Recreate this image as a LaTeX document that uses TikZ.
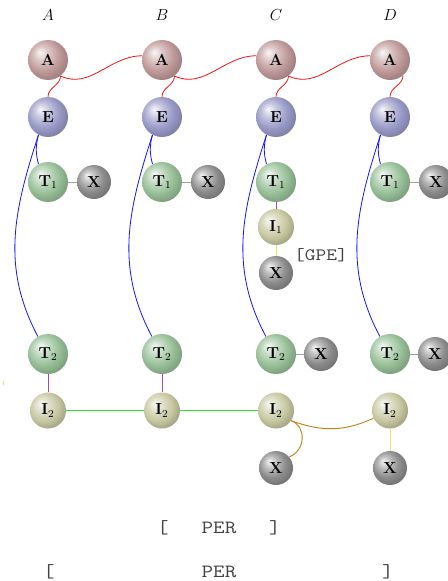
\documentclass[tikz,border=0pt]{standalone}
\usepackage{fontspec}
\newfontfamily\monofont[FakeStretch=1.2]{Latin Modern Mono}
\definecolor{cA}{RGB}{192,154,154}
\definecolor{cE}{RGB}{154,154,200}
\definecolor{cT}{RGB}{152,192,152}
\definecolor{cX}{RGB}{140,140,140}
\definecolor{cI}{RGB}{200,200,162}
\definecolor{lred}{RGB}{240,20,20}
\definecolor{lblue}{RGB}{20,20,245}
\definecolor{lgrey}{RGB}{160,160,160}
\definecolor{lpurple}{RGB}{170,70,170}
\definecolor{lyellow}{RGB}{225,225,110}
\definecolor{brightgreen}{RGB}{40,230,40}
\definecolor{lbrown}{RGB}{195,130,25}
\definecolor{tgrey}{RGB}{65,65,65}
\makeatletter
\pgfdeclareradialshading[tikz@ball]{softball}{\pgfqpoint{-10bp}{10bp}}{%
  color(0bp)=(tikz@ball!8!white);
  color(9bp)=(tikz@ball!55!white);
  color(20bp)=(tikz@ball);
  color(32bp)=(tikz@ball!78!black);
  color(50bp)=(tikz@ball!50!black)}
\makeatother
\begin{document}
\begin{tikzpicture}[x=0.75pt,y=-0.75pt,
  ball/.style={circle, inner sep=0pt, font=\fontsize{12}{14}\selectfont\bfseries},
  nA/.style={ball, minimum size=30pt, ball color=cA, shading=softball},
  nE/.style={ball, minimum size=30pt, ball color=cE, shading=softball},
  nT/.style={ball, minimum size=30pt, ball color=cT, shading=softball},
  nX/.style={ball, minimum size=25.5pt, ball color=cX, shading=softball},
  nI/.style={ball, minimum size=27pt, ball color=cI, shading=softball},
  col/.style={font=\fontsize{13}{15}\selectfont},
  tag/.style={font=\monofont\fontsize{13}{15}\selectfont, text=tgrey, inner sep=0pt},
  bigtag/.style={tag, font=\monofont\fontsize{14}{16}\selectfont},
  redl/.style={draw=lred, line width=0.6pt},
  bluel/.style={draw=lblue, line width=0.6pt},
  greyl/.style={draw=lgrey, line width=0.7pt},
  purl/.style={draw=lpurple, line width=0.7pt},
  yell/.style={draw=lyellow, line width=0.7pt},
  grnl/.style={draw=brightgreen, line width=0.8pt},
  brnl/.style={draw=lbrown, line width=0.7pt}
]
\useasboundingbox (0,0) rectangle (448,581);

% column labels
\node[col] (la) at (48,15) {$A$};
\node[col] (lb) at (162,15) {$B$};
\node[col] (lc) at (276,15) {$C$};
\node[col] (ld) at (390,15) {$D$};

% column A
\node[nA] (aA) at (48,60) {A};
\node[nE] (aE) at (48,117) {E};
\node[nT] (aT1) at (48,182) {T$_1$};
\node[nX] (aX1) at (94,182) {X};
\node[nT] (aT2) at (48,354) {T$_2$};
\node[nI] (aI2) at (48,410.5) {I$_2$};

% column B
\node[nA] (bA) at (162,60) {A};
\node[nE] (bE) at (162,117) {E};
\node[nT] (bT1) at (162,182) {T$_1$};
\node[nX] (bX1) at (208,182) {X};
\node[nT] (bT2) at (162,354) {T$_2$};
\node[nI] (bI2) at (162,410.5) {I$_2$};

% column C
\node[nA] (cA) at (276,60) {A};
\node[nE] (cE) at (276,117) {E};
\node[nT] (cT1) at (276,182) {T$_1$};
\node[nI] (cI1) at (276,227) {I$_1$};
\node[nX] (cX1) at (276,273) {X};
\node[nT] (cT2) at (276,354) {T$_2$};
\node[nX] (cX2) at (321,354) {X};
\node[nI] (cI2) at (276,410.5) {I$_2$};
\node[nX] (cX3) at (276,468) {X};

% column D
\node[nA] (dA) at (390,60) {A};
\node[nE] (dE) at (390,117) {E};
\node[nT] (dT1) at (390,182) {T$_1$};
\node[nX] (dX1) at (436,182) {X};
\node[nT] (dT2) at (390,354) {T$_2$};
\node[nX] (dX2) at (435,354) {X};
\node[nI] (dI2) at (390,410.5) {I$_2$};
\node[nX] (dX3) at (390,468) {X};

% tags
\node[tag] (gpe) at (321,255) {[GPE]};
\node[bigtag] (p1l) at (163,528) {[};
\node[bigtag] (p1) at (219,528) {PER};
\node[bigtag] (p1r) at (275,528) {]};
\node[bigtag] (p2l) at (49,572) {[};
\node[bigtag] (p2) at (219,572) {PER};
\node[bigtag] (p2r) at (388,572) {]};

% red links
\foreach \p/\q in {a/b,b/c,c/d} {
  \draw[redl] (\p A.-52) to[out=-90,in=90] (\p E.north);
  \draw[redl] (\p A.-52) to[out=-25,in=180] (\q A.168);
}
\draw[redl] (dA.-50) to[out=-90,in=90] (dE.north);

% blue links
\foreach \p in {a,b,c,d} {
  \draw[bluel] (\p E.-118) to[out=-105,in=105] (\p T1.118);
  \draw[bluel] (\p E.-118) to[out=-108,in=118] (\p T2.120);
}

% grey links
\draw[greyl] (aT1) -- (aX1);
\draw[greyl] (bT1) -- (bX1);
\draw[greyl] (dT1) -- (dX1);
\draw[greyl] (cT2) -- (cX2);
\draw[greyl] (dT2) -- (dX2);

% purple / yellow
\draw[purl] (aT2) -- (aI2);
\draw[purl] (bT2) -- (bI2);
\draw[purl] (cT1) -- (cI1);
\draw[yell] (cI1) -- (cX1);
\draw[yell] (dI2) -- (dX3);

% green
\draw[grnl] (aI2) -- (bI2);
\draw[grnl] (bI2) -- (cI2);

% brown
\draw[brnl] (cI2.-34) to[out=-20,in=-155] (dI2.205);
\draw[brnl] (cI2.-34) to[out=-20,in=20,looseness=1.2] (cX3.40);

% tiny mark
\coordinate (m1) at (3.5,381);
\coordinate (m2) at (3.5,385);
\draw[lyellow, line width=0.6pt] (m1) -- (m2);
\end{tikzpicture}
\end{document}
